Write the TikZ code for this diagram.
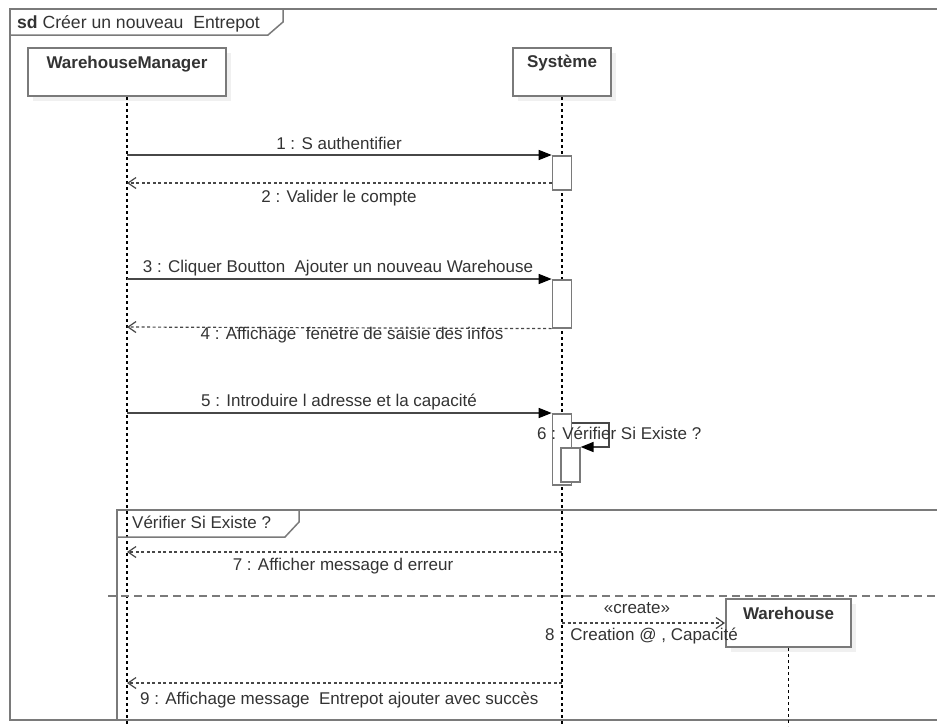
\documentclass[tikz,border=0pt]{standalone}
\usepackage{fontspec}
\setmainfont{Liberation Sans}
\usetikzlibrary{arrows.meta,calc}
\definecolor{ink}{HTML}{333333}
\definecolor{edge}{HTML}{7A7A7A}
\definecolor{msg}{HTML}{474747}
\definecolor{shade}{HTML}{F0F0F0}

\tikzset{
  txt/.style={font=\fontsize{17}{20}\selectfont, text=ink, inner sep=0pt},
  headtxt/.style={font=\fontsize{17}{20}\selectfont\bfseries, text=ink, inner sep=0pt, anchor=base},
  head/.style={draw=edge, line width=2pt, fill=white, minimum height=48pt, inner sep=0pt,
    preaction={fill=shade, transform canvas={shift={(5pt,-5pt)}}}},
  life/.style={black, line width=1.1pt, dash pattern=on 3pt off 3pt},
  act/.style={draw=edge, line width=1.6pt, fill=white, minimum width=19pt, inner sep=0pt},
  call/.style={msg, line width=1.5pt, -{Triangle[length=13pt,width=10pt,fill=black,color=black]}},
  reply/.style={msg, line width=1.2pt, dash pattern=on 3pt off 2.5pt,
    -{Straight Barb[length=8pt,width=11pt,line width=1.2pt]}},
  framed/.style={draw=edge, line width=1.5pt},
  sep/.style={draw=edge, line width=1.5pt, dash pattern=on 8pt off 5pt},
}

\begin{document}
\begin{tikzpicture}[x=1pt,y=-1pt]
  \useasboundingbox (0,0) rectangle (937,726);
  \clip (0,0) rectangle (937,726);

  % outer sd frame and its title tab
  \draw[framed] (950,9) -- (10,9) -- (10,720) -- (950,720);
  \draw[framed] (10,35) -- (268,35) -- (283,22) -- (283,9);
  \node[txt, font=\fontsize{17.6}{20}\selectfont, anchor=base west] (title) at (17,28)
    {\textbf{sd} Créer un nouveau\ \ Entrepot};

  % lifeline heads
  \node[head, minimum width=198pt, anchor=north west] (wm) at (27,47) {};
  \node[headtxt] (wmt) at ($(wm.north)+(0,21)$) {WarehouseManager};
  \node[head, minimum width=98pt, anchor=north west] (sys) at (512,47) {};
  \node[headtxt] (syst) at ($(sys.north)+(0,20)$) {Système};

  % lifelines
  \coordinate (wmEnd) at (wm.south |- 0,726);
  \coordinate (sysEnd) at (sys.south |- 0,726);
  \draw[life] (wm.south) -- (wmEnd);
  \draw[life] (sys.south) -- (sysEnd);

  % combined fragment
  \draw[framed] (950,510) -- (117,510) -- (117,720);
  \draw[framed] (117,537) -- (285,537) -- (299,522) -- (299,510);
  \node[txt, anchor=base west] (fragt) at (132,528) {Vérifier Si Existe ?};
  \coordinate (sepL) at (108,596);
  \coordinate (sepR) at (950,596);
  \draw[sep] (sepL) -- (sepR);

  % activations on the system lifeline
  \node[act, minimum height=34pt, anchor=north] (a1) at (sys.south |- 0,155) {};
  \node[act, minimum height=48pt, anchor=north] (a2) at (sys.south |- 0,279) {};
  \node[act, minimum height=71pt, anchor=north] (a3) at (sys.south |- 0,413) {};
  \node[act, minimum height=34pt, anchor=north west] (a4) at (560,447) {};

  % lifeline points used by the messages
  \coordinate (w1) at (wm.south |- 0,155);
  \coordinate (w2) at (wm.south |- 0,183);
  \coordinate (w3) at (wm.south |- 0,279);
  \coordinate (w4) at (wm.south |- 0,327);
  \coordinate (w5) at (wm.south |- 0,413);
  \coordinate (w7) at (wm.south |- 0,552);
  \coordinate (s7) at (sys.south |- 0,552);
  \coordinate (s8) at (sys.south |- 0,623);
  \coordinate (w9) at (wm.south |- 0,683);
  \coordinate (s9) at (sys.south |- 0,683);
  \coordinate (self1) at (609,423);
  \coordinate (self2) at (609,447);

  % messages
  \draw[call] (w1) -- (a1.north west);
  \node[txt, anchor=base] (l1) at (339,149) {1 : S authentifier};
  \draw[reply] (a1.west |- w2) -- (w2);
  \node[txt, anchor=base] (l2) at (339,202) {2 : Valider le compte};

  \draw[call] (w3) -- (a2.north west);
  \node[txt, anchor=base] (l3) at (338,272) {3 : Cliquer Boutton\ \ Ajouter un nouveau Warehouse};
  \draw[reply] (a2.south west) -- (w4);
  \node[txt, anchor=base] (l4) at (352,339) {4 : Affichage\ \ fenetre de saisie des infos};

  \draw[call] (w5) -- (a3.north west);
  \node[txt, anchor=base] (l5) at (339,406) {5 : Introduire l adresse et la capacité};

  \draw[call] (a3.east |- self1) -- (self1) -- (self2) -- (a4.north east);
  \node[txt, anchor=base west] (l6) at (537,439) {6 : Vérifier Si Existe ?};

  \draw[reply] (s7) -- (w7);
  \node[txt, anchor=base] (l7) at (343,570) {7 : Afficher message d erreur};

  % created participant
  \node[head, minimum width=125pt, anchor=north west] (wh) at (725,598) {};
  \node[headtxt] (wht) at ($(wh.north)+(0,21)$) {Warehouse};
  \coordinate (whEnd) at (wh.south |- 0,726);
  \draw[life] (wh.south) -- (whEnd);

  \draw[reply] (s8) -- (wh.west);
  \node[txt, anchor=base] (l8a) at (637,613) {«create»};
  \node[txt, anchor=base west] (l8) at (545,640) {8 : Creation @ , Capacité};

  \draw[reply] (s9) -- (w9);
  \node[txt, anchor=base west] (l9) at (140,704) {9 : Affichage message\ \ Entrepot ajouter avec succès};
\end{tikzpicture}
\end{document}
